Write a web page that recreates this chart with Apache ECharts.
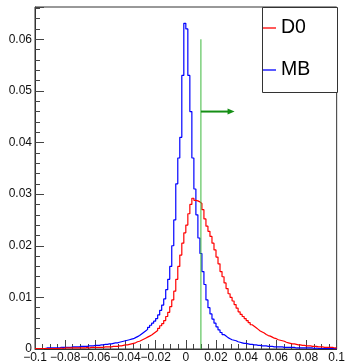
<!DOCTYPE html>
<html><head><meta charset="utf-8">
<script src="https://cdn.jsdelivr.net/npm/echarts@6/dist/echarts.min.js"></script>
<style>html,body{margin:0;padding:0;background:#fff}#c{width:348px;height:364px}</style>
</head><body><div id="c"></div>
<script>
// Histogram binning: 150 bins from -0.1 to 0.1
const xMin = -0.1, xMax = 0.1, nBins = 150;
const legendNames = ['D0', 'MB'];

const mbValues = [
  0.0001,0.0001,0.0001,0.0001,0.0001,0.0002,0.0002,0.0002,0.0002,0.0002,
  0.0002,0.0002,0.0003,0.0003,0.0003,0.0003,0.0003,0.0003,0.0004,0.0004,
  0.0004,0.0004,0.0005,0.0005,0.0005,0.0005,0.0006,0.0006,0.0006,0.0007,
  0.0007,0.0007,0.0008,0.0008,0.0009,0.0009,0.0010,0.0010,0.0011,0.0012,
  0.0012,0.0013,0.0014,0.0015,0.0016,0.0017,0.0018,0.0019,0.0020,0.0022,
  0.0024,0.0026,0.0029,0.0032,0.0035,0.0038,0.0042,0.0046,0.0050,0.0054,
  0.0059,0.0066,0.0075,0.0085,0.0097,0.0115,0.0135,0.0160,0.0200,0.0250,
  0.0320,0.0370,0.0410,0.0530,0.0631,0.0620,0.0530,0.0460,0.0370,0.0310,
  0.0260,0.0215,0.0185,0.0150,0.0125,0.0095,0.0080,0.0068,0.0058,0.0050,
  0.0043,0.0037,0.0032,0.0028,0.0025,0.0022,0.0020,0.0018,0.0017,0.0016,
  0.0014,0.0013,0.0012,0.0011,0.0011,0.0010,0.0009,0.0009,0.0008,0.0008,
  0.0007,0.0007,0.0006,0.0006,0.0006,0.0005,0.0005,0.0005,0.0004,0.0004,
  0.0004,0.0004,0.0004,0.0003,0.0003,0.0003,0.0003,0.0003,0.0003,0.0002,
  0.0002,0.0002,0.0002,0.0002,0.0002,0.0002,0.0002,0.0002,0.0001,0.0002,
  0.0001,0.0001,0.0001,0.0001,0.0001,0.0001,0.0001,0.0001,0.0001,0.0001
];

const d0Values = [
  0.0001,0.0001,0.0001,0.0001,0.0001,0.0001,0.0001,0.0001,0.0001,0.0001,
  0.0001,0.0001,0.0002,0.0001,0.0002,0.0002,0.0002,0.0002,0.0002,0.0002,
  0.0002,0.0002,0.0002,0.0002,0.0002,0.0003,0.0002,0.0003,0.0003,0.0003,
  0.0003,0.0003,0.0003,0.0003,0.0004,0.0004,0.0004,0.0004,0.0005,0.0005,
  0.0005,0.0006,0.0006,0.0007,0.0008,0.0008,0.0009,0.0010,0.0011,0.0012,
  0.0014,0.0015,0.0017,0.0019,0.0021,0.0023,0.0025,0.0027,0.0030,0.0033,
  0.0036,0.0040,0.0045,0.0049,0.0055,0.0063,0.0071,0.0082,0.0095,0.0112,
  0.0135,0.0160,0.0182,0.0205,0.0225,0.0240,0.0262,0.0280,0.0292,0.0288,
  0.0287,0.0285,0.0282,0.0270,0.0252,0.0238,0.0228,0.0218,0.0205,0.0192,
  0.0178,0.0165,0.0150,0.0140,0.0128,0.0117,0.0107,0.0100,0.0093,0.0086,
  0.0079,0.0072,0.0067,0.0063,0.0059,0.0055,0.0051,0.0047,0.0044,0.0041,
  0.0038,0.0035,0.0033,0.0031,0.0028,0.0026,0.0025,0.0023,0.0021,0.0020,
  0.0018,0.0017,0.0016,0.0015,0.0013,0.0012,0.0011,0.0010,0.0010,0.0009,
  0.0008,0.0008,0.0007,0.0007,0.0006,0.0006,0.0006,0.0005,0.0005,0.0005,
  0.0004,0.0004,0.0004,0.0003,0.0003,0.0003,0.0003,0.0003,0.0002,0.0002
];

// Cut line and arrow
const cutX = 0.01, cutTop = 0.06;
const arrowY = 0.046, arrowEnd = 0.030;

const FONT = "'Liberation Sans', Arial, Helvetica, sans-serif";
const LINE_ICON = 'path://M0,0L14,0L14,1.4L0,1.4Z';

function histPoints(vals) {
  const w = (xMax - xMin) / nBins;
  const pts = vals.map((v, i) => [xMin + i * w, v]);
  pts.push([xMax, vals[vals.length - 1]]);
  return pts;
}
function fmt(v) {
  const r = Math.round(v * 100) / 100;
  if (Math.abs(r) < 1e-9) return '0';
  return String(r).replace('-', '\u2212');
}

const yMax = 1.05 * Math.max(...mbValues);
const chart = echarts.init(document.getElementById('c'), null, {renderer: 'canvas'});
chart.setOption({
  animation: false,
  backgroundColor: '#fff',
  grid: {left: 35, top: 7, right: 11, bottom: 15, show: true, borderColor: '#333', borderWidth: 1, backgroundColor: 'transparent'},
  xAxis: {
    type: 'value', min: xMin, max: xMax, interval: 0.02,
    axisLine: {show: true, onZero: false, lineStyle: {color: '#333', width: 1}},
    axisTick: {show: true, inside: true, length: 9, lineStyle: {color: '#444'}},
    minorTick: {show: true, splitNumber: 4, length: 5, lineStyle: {color: '#444'}},
    splitLine: {show: false},
    axisLabel: {margin: 3, fontSize: 12, fontFamily: FONT, color: '#111', formatter: fmt}
  },
  yAxis: {
    type: 'value', min: 0, max: yMax, interval: 0.01,
    axisLine: {show: true, onZero: false, lineStyle: {color: '#333', width: 1}},
    axisTick: {show: true, inside: true, length: 9, lineStyle: {color: '#444'}},
    minorTick: {show: true, splitNumber: 5, length: 5, lineStyle: {color: '#444'}},
    splitLine: {show: false},
    axisLabel: {margin: 3, fontSize: 12, fontFamily: FONT, color: '#111', formatter: fmt, showMaxLabel: false}
  },
  legend: {
    orient: 'vertical', left: 263, top: 18, padding: 0, itemGap: 22,
    itemWidth: 13, itemHeight: 20, symbolKeepAspect: true, selectedMode: false,
    data: legendNames.map(n => ({name: n, icon: LINE_ICON})),
    textStyle: {fontSize: 19.5, fontFamily: FONT, color: '#000', lineHeight: 20}
  },
  graphic: [{
    type: 'rect', z: 3,
    shape: {x: 262.5, y: 7.5, width: 75, height: 85},
    style: {fill: '#fff', stroke: '#333', lineWidth: 1}
  }],
  series: [
    {name: 'MB', type: 'line', step: 'end', data: histPoints(mbValues), symbol: 'none',
     lineStyle: {color: '#0000ff', width: 1.2}, itemStyle: {color: '#0000ff'}, z: 2},
    {name: 'D0', type: 'line', step: 'end', data: histPoints(d0Values), symbol: 'none',
     lineStyle: {color: '#ff0000', width: 1.2}, itemStyle: {color: '#ff0000'}, z: 2},
    {name: 'cut', type: 'line', data: [[cutX, 0], [cutX, cutTop]], symbol: 'none', silent: true,
     lineStyle: {color: '#3cb83c', width: 1}, z: 3},
    {name: 'arrow', type: 'line', silent: true, z: 3,
     data: [{value: [cutX, arrowY], symbol: 'none'},
            {value: [arrowEnd, arrowY], symbol: 'triangle', symbolSize: [6, 7], symbolRotate: -90}],
     lineStyle: {color: '#158f15', width: 2}, itemStyle: {color: '#158f15'}}
  ]
});
</script></body></html>
